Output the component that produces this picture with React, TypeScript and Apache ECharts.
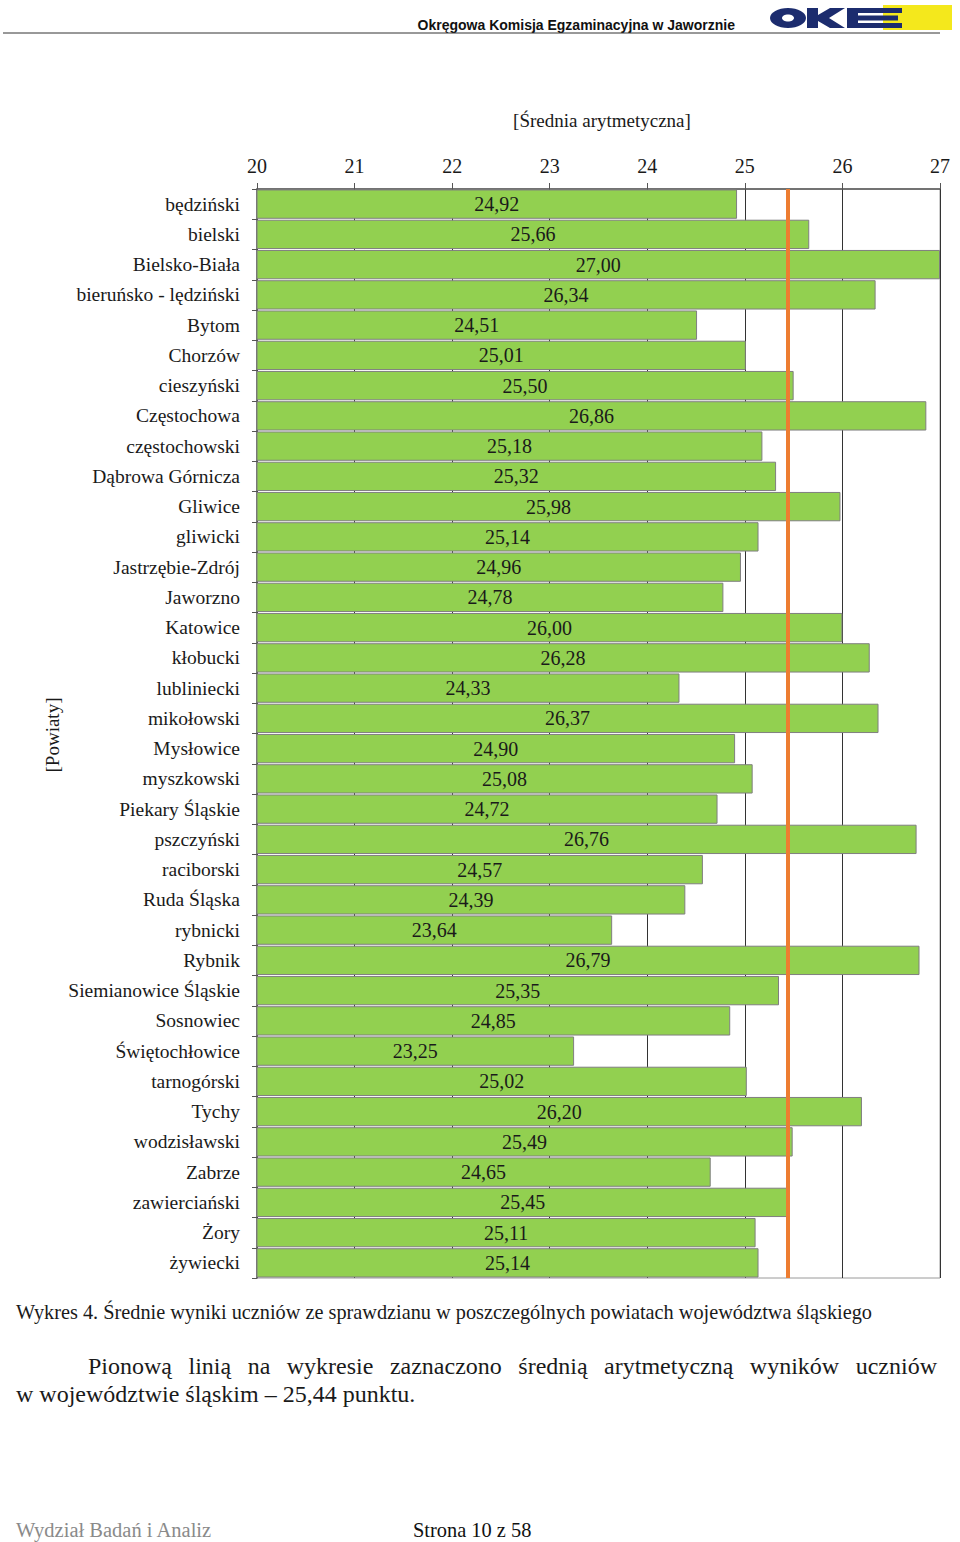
import React, { useEffect, useRef } from "react";
import * as echarts from "echarts";

const categories = [
  "będziński", "bielski", "Bielsko-Biała", "bieruńsko - lędziński", "Bytom", "Chorzów",
  "cieszyński", "Częstochowa", "częstochowski", "Dąbrowa Górnicza", "Gliwice", "gliwicki",
  "Jastrzębie-Zdrój", "Jaworzno", "Katowice", "kłobucki", "lubliniecki", "mikołowski",
  "Mysłowice", "myszkowski", "Piekary Śląskie", "pszczyński", "raciborski", "Ruda Śląska",
  "rybnicki", "Rybnik", "Siemianowice Śląskie", "Sosnowiec", "Świętochłowice", "tarnogórski",
  "Tychy", "wodzisławski", "Zabrze", "zawierciański", "Żory", "żywiecki",
];
const values = [
  24.92, 25.66, 27.0, 26.34, 24.51, 25.01,
  25.5, 26.86, 25.18, 25.32, 25.98, 25.14,
  24.96, 24.78, 26.0, 26.28, 24.33, 26.37,
  24.9, 25.08, 24.72, 26.76, 24.57, 24.39,
  23.64, 26.79, 25.35, 24.85, 23.25, 25.02,
  26.2, 25.49, 24.65, 25.45, 25.11, 25.14,
];
const average = 25.44;
const xMin = 20;
const xMax = 27;

const SERIF = '"Liberation Serif", "Times New Roman", serif';
const para1Words = ["Pionową", "linią", "na", "wykresie", "zaznaczono", "średnią", "arytmetyczną", "wyników", "uczniów"];
const para2 = "w województwie śląskim – 25,44 punktu.";

function justifiedWords(words: string[], x0: number, x1: number, font: string) {
  const c = document.createElement("canvas").getContext("2d")!;
  c.font = font;
  const widths = words.map((w) => c.measureText(w).width);
  const total = widths.reduce((a, b) => a + b, 0);
  const gap = (x1 - x0 - total) / (words.length - 1);
  let x = x0;
  return words.map((w, i) => {
    const px = x;
    x += widths[i] + gap;
    return px;
  });
}

const NAVY = "#1C2C6E";

export default function App() {
  const ref = useRef<HTMLDivElement>(null);
  useEffect(() => {
    const chart = echarts.init(ref.current!, null, { renderer: "svg" });
    const paraFont = `24px ${SERIF}`;
    const xs = justifiedWords(para1Words, 88, 937, paraFont);
    const txt = (text: string, x: number, y: number, extra: any = {}) => ({
      type: "text",
      x,
      y,
      style: {
        text,
        fontFamily: SERIF,
        fontSize: 18,
        fill: "#1a1a1a",
        textVerticalAlign: "middle",
        ...extra,
      },
    });
    chart.setOption({
      animation: false,
      backgroundColor: "#ffffff",
      grid: {
        left: 257,
        right: 20,
        top: 189,
        bottom: 264,
        show: true,
        borderColor: "#9a9a9a",
        borderWidth: 1,
        backgroundColor: "transparent",
      },
      xAxis: {
        type: "value",
        position: "top",
        min: xMin,
        max: xMax,
        interval: 1,
        axisLine: { show: true, lineStyle: { color: "#555", width: 1.5 } },
        axisTick: { show: true, length: 6, inside: false, lineStyle: { color: "#555" } },
        axisLabel: { fontFamily: SERIF, fontSize: 20, color: "#1a1a1a", margin: 13 },
        splitLine: { show: true, lineStyle: { color: "#333", width: 1 } },
      },
      yAxis: {
        type: "category",
        inverse: true,
        data: categories,
        axisLine: { show: true, lineStyle: { color: "#555", width: 1.5 } },
        axisTick: { show: true, length: 5, lineStyle: { color: "#555" } },
        axisLabel: { fontFamily: SERIF, fontSize: 19.5, color: "#1a1a1a", margin: 17 },
      },
      series: [
        {
          type: "bar",
          data: values,
          barCategoryGap: "3%",
          itemStyle: { color: "#92D050", borderColor: "#7f7f7f", borderWidth: 1 },
          label: {
            show: true,
            position: "inside",
            fontFamily: SERIF,
            fontSize: 20,
            color: "#1a1a1a",
            formatter: (p: any) => Number(p.value).toFixed(2).replace(".", ","),
          },
          markLine: {
            silent: true,
            symbol: "none",
            label: { show: false },
            lineStyle: { color: "#ED7D31", width: 4, type: "solid" },
            data: [{ xAxis: average }],
          },
        },
      ],
      graphic: [
        // header
        {
          type: "text",
          x: 735,
          y: 25,
          style: {
            text: "Okręgowa Komisja Egzaminacyjna w Jaworznie",
            fontFamily: '"Liberation Sans", Arial, sans-serif',
            fontWeight: "bold",
            fontSize: 14,
            fill: "#111",
            textAlign: "right",
            textVerticalAlign: "middle",
          },
        },
        // logo
        { type: "rect", shape: { x: 883, y: 5, width: 69, height: 25 }, style: { fill: "#F4E81C" } },
        { type: "ellipse", shape: { cx: 788, cy: 18, rx: 18, ry: 10 }, style: { fill: NAVY } },
        { type: "ellipse", shape: { cx: 788, cy: 18, rx: 6, ry: 3.5 }, style: { fill: "#fff" } },
        { type: "rect", shape: { x: 807, y: 8, width: 11, height: 20 }, style: { fill: NAVY } },
        {
          type: "polygon",
          shape: { points: [[818, 15], [830, 8], [845, 8], [829, 18], [845, 28], [830, 28], [818, 21]] },
          style: { fill: NAVY },
        },
        { type: "rect", shape: { x: 847, y: 8, width: 11, height: 20 }, style: { fill: NAVY } },
        { type: "rect", shape: { x: 847, y: 8, width: 55, height: 5 }, style: { fill: NAVY } },
        { type: "rect", shape: { x: 847, y: 15.5, width: 51, height: 5 }, style: { fill: NAVY } },
        { type: "rect", shape: { x: 847, y: 23, width: 55, height: 5 }, style: { fill: NAVY } },
        { type: "line", shape: { x1: 3, y1: 33, x2: 940, y2: 33 }, style: { stroke: "#333", lineWidth: 1 } },
        // axis names
        txt("[Średnia arytmetyczna]", 602, 120, { textAlign: "center", fontSize: 19 }),
        {
          type: "text",
          x: 52,
          y: 735,
          rotation: Math.PI / 2,
          style: {
            text: "[Powiaty]",
            fontFamily: SERIF,
            fontSize: 19,
            fill: "#1a1a1a",
            textAlign: "center",
            textVerticalAlign: "middle",
          },
        },
        // caption
        txt(
          "Wykres 4. Średnie wyniki uczniów ze sprawdzianu w poszczególnych powiatach województwa śląskiego",
          16,
          1312,
          { fontSize: 20.3 }
        ),
        // paragraph
        ...para1Words.map((w, i) => txt(w, xs[i], 1366, { fontSize: 24 })),
        txt(para2, 16, 1394, { fontSize: 24 }),
        // footer
        txt("Wydział Badań i Analiz", 16, 1530, { fontSize: 20.5, fill: "#8a8a8a" }),
        txt("Strona 10 z 58", 413, 1530, { fontSize: 20.4, fill: "#111" }),
      ],
    });
    return () => chart.dispose();
  }, []);
  return (
    <div
      ref={ref}
      style={{ position: "absolute", left: 0, top: 0, width: 960, height: 1542, background: "#fff" }}
    />
  );
}
